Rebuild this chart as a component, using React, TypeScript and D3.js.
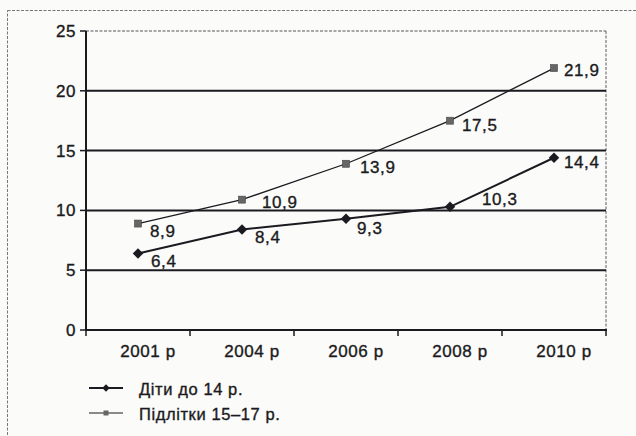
import React from "react";
import * as d3 from "d3";

const categories = ["2001 р", "2004 р", "2006 р", "2008 р", "2010 р"];
const children = [6.4, 8.4, 9.3, 10.3, 14.4];
const teens = [8.9, 10.9, 13.9, 17.5, 21.9];
const yTicks = [0, 5, 10, 15, 20, 25];
const seriesNames = ["Діти до 14 р.", "Підлітки 15–17 р."];

// label placement offsets (styling only)
const childOffsets = [[13, 14], [13, 13], [11, 15], [32, -2], [10, 10]];
const teenOffsets = [[12, 13], [20, 8], [14, 9], [12, 10], [10, 8]];

const W = 636, H = 436;
const M = { left: 86, right: 606, top: 31, bottom: 330 };
const INK = "#1a1a20";
const FONT = "'Liberation Sans', Arial, sans-serif";

export default function App() {
  const x = d3.scaleBand<string>().domain(categories).range([M.left, M.right]);
  const y = d3.scaleLinear().domain([0, 25]).range([M.bottom, M.top]);
  const cx = (c: string) => (x(c) as number) + x.bandwidth() / 2;
  const line = d3.line<number>().x((_, i) => cx(categories[i])).y((v) => y(v));
  const fmt = (v: number) => v.toFixed(1).replace(".", ",");
  const diamond = d3.symbol().type(d3.symbolDiamond2).size(70)() as string;
  const diamondSmall = d3.symbol().type(d3.symbolDiamond2).size(36)() as string;
  const boundaries = categories.map((c) => x(c) as number).concat([M.right]);

  const textStyle = {
    fontFamily: FONT, fontSize: 17, fill: INK, letterSpacing: 0.6,
    stroke: INK, strokeWidth: 0.35,
  } as const;

  return (
    <svg width={W} height={H} style={{ position: "absolute", left: 0, top: 0, background: "#fbfbfa" }}>
      {/* outer frame */}
      <rect x={7.5} y={10.5} width={700} height={500} fill="none" stroke="#777" strokeWidth={1} strokeDasharray="3,1.5" />
      {/* plot border top/right dashed */}
      <line x1={M.left} x2={M.right} y1={M.top} y2={M.top} stroke="#555" strokeWidth={1.2} strokeDasharray="3,1.5" />
      <line x1={M.right} x2={M.right} y1={M.top} y2={M.bottom} stroke="#777" strokeWidth={1.2} strokeDasharray="3,1.5" />
      {/* gridlines */}
      {yTicks.filter((t) => t > 0 && t < 25).map((t) => (
        <line key={t} x1={M.left} x2={M.right} y1={y(t)} y2={y(t)} stroke={INK} strokeWidth={2} />
      ))}
      {/* axes */}
      <line x1={M.left} x2={M.right + 1} y1={M.bottom} y2={M.bottom} stroke={INK} strokeWidth={2} />
      <line x1={M.left} x2={M.left} y1={M.top} y2={M.bottom + 1} stroke={INK} strokeWidth={2} />
      {yTicks.map((t) => (
        <g key={t}>
          <line x1={M.left - 6} x2={M.left} y1={y(t)} y2={y(t)} stroke={INK} strokeWidth={1.5} />
          <text x={76} y={y(t) + 6} textAnchor="end" style={textStyle}>{t}</text>
        </g>
      ))}
      {boundaries.map((b, i) => (
        <line key={i} x1={b} x2={b} y1={M.bottom} y2={M.bottom + 6} stroke={INK} strokeWidth={1.5} />
      ))}
      {categories.map((c) => (
        <text key={c} x={cx(c) + 10} y={357} textAnchor="middle" style={textStyle}>{c}</text>
      ))}
      {/* teens series */}
      <path d={line(teens) as string} fill="none" stroke={INK} strokeWidth={1.3} />
      {teens.map((v, i) => (
        <g key={"t" + i}>
          <rect x={cx(categories[i]) - 3.5} y={y(v) - 3.5} width={7} height={7} fill="#666" stroke="#444" strokeWidth={0.6} />
          <text x={cx(categories[i]) + teenOffsets[i][0]} y={y(v) + teenOffsets[i][1]} style={textStyle}>{fmt(v)}</text>
        </g>
      ))}
      {/* children series */}
      <path d={line(children) as string} fill="none" stroke={INK} strokeWidth={2} />
      {children.map((v, i) => (
        <g key={"c" + i}>
          <path d={diamond} transform={`translate(${cx(categories[i])},${y(v)})`} fill={INK} />
          <text x={cx(categories[i]) + childOffsets[i][0]} y={y(v) + childOffsets[i][1]} style={textStyle}>{fmt(v)}</text>
        </g>
      ))}
      {/* legend */}
      <line x1={89} x2={123} y1={388} y2={388} stroke={INK} strokeWidth={2} />
      <path d={diamondSmall} transform="translate(106,388)" fill={INK} />
      <text x={139} y={395} style={{ ...textStyle, fontSize: 16.5 }}>{seriesNames[0]}</text>
      <line x1={89} x2={123} y1={413} y2={413} stroke={INK} strokeWidth={1.2} />
      <rect x={103.5} y={410.5} width={5} height={5} fill="#666" />
      <text x={139} y={420} style={{ ...textStyle, fontSize: 16.5 }}>{seriesNames[1]}</text>
    </svg>
  );
}
